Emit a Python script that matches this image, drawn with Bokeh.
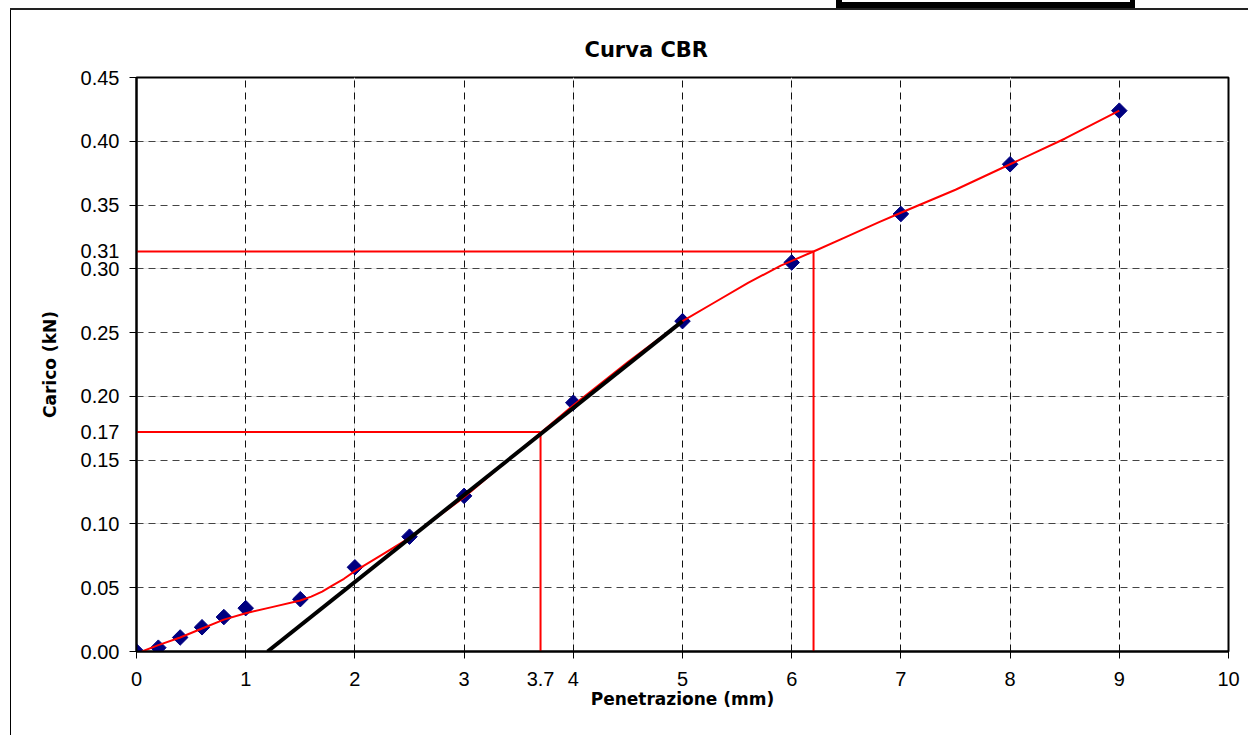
from bokeh.plotting import figure
from bokeh.models import (Range1d, FixedTicker, PrintfTickFormatter, NumeralTickFormatter,
                          LinearAxis, Grid)
from bokeh.embed import file_html
from bokeh.resources import INLINE
import numpy as np

# ---- data ----
pen_x = [0.0, 0.2, 0.4, 0.6, 0.8, 1.0, 1.5, 2.0, 2.5, 3.0, 4.0, 5.0, 6.0, 7.0, 8.0, 9.0]
load_y = [0.000, 0.003, 0.011, 0.019, 0.027, 0.034, 0.041, 0.066, 0.090, 0.122,
          0.195, 0.259, 0.305, 0.343, 0.382, 0.424]

curve_x = [0.05, 0.2, 0.4, 0.6, 0.8, 1.0, 1.25, 1.5, 1.6, 1.7, 1.8, 1.9, 2.0, 2.25, 2.5,
           2.75, 3.0, 3.5, 4.0, 4.5, 5.0, 5.3, 5.6, 5.9, 6.2, 6.5, 6.8, 7.0, 7.5, 8.0,
           8.5, 9.0]
curve_y = [0.000, 0.005, 0.011, 0.018, 0.025, 0.030, 0.035, 0.040, 0.043, 0.047, 0.052,
           0.057, 0.063, 0.076, 0.089, 0.105, 0.121, 0.157, 0.193, 0.227, 0.259, 0.274,
           0.289, 0.3025, 0.3136, 0.325, 0.3366, 0.344, 0.362, 0.382, 0.402, 0.424]

tangent_x = [1.2, 5.0]
tangent_y = [0.0, 0.259]

ref_x = [3.7, 6.2]
ref_y = [0.172, 0.3136]
ref_x_label_ticks = [3.7]            # value shown on the x axis ("3.7")
ref_y_label_ticks = [0.172, 0.3136]  # values shown on the y axis ("0.17", "0.31")

x_ticks = [0, 1, 2, 3, 4, 5, 6, 7, 8, 9, 10]
y_ticks = [0.0, 0.05, 0.10, 0.15, 0.20, 0.25, 0.30, 0.35, 0.40, 0.45]

title_text = "Curva CBR"
x_label = "Penetrazione (mm)"
y_label = "Carico (kN)"

# ---- layout ----
W, H = 1248, 735
ML, MR, MT, MB = 136, 20, 77, 84

bg_layers = ", ".join([
    "linear-gradient(white, white) 842px 0px / 288px 2px no-repeat",
    "linear-gradient(black, black) 836px 0px / 299px 8px no-repeat",
    "linear-gradient(#222, #222) 10px 8px / 100% 2px no-repeat",
    "linear-gradient(black, black) 10px 9px / 1px 100% no-repeat",
    "white",
])

p = figure(width=W, height=H, x_range=Range1d(0, 10), y_range=Range1d(0, 0.45),
           output_backend="svg", toolbar_location=None,
           min_border_left=ML, min_border_right=MR, min_border_top=MT, min_border_bottom=MB,
           x_axis_location=None, y_axis_location=None,
           styles={"background": bg_layers})
p.background_fill_color = "white"
p.border_fill_color = None
p.outline_line_color = "black"
p.outline_line_width = 2

tick_font = "Liberation Sans"
tick_size = "20px"

# axes carrying the tick marks only (labels not drawn)
xa = LinearAxis(ticker=FixedTicker(ticks=x_ticks))
ya = LinearAxis(ticker=FixedTicker(ticks=y_ticks))
for ax in (xa, ya):
    ax.axis_line_color = "black"
    ax.axis_line_width = 2
    ax.major_tick_in = 0
    ax.major_tick_out = 7
    ax.major_tick_line_color = "black"
    ax.minor_tick_line_color = None
    ax.major_label_text_font_size = "0px"
    ax.major_label_text_color = None
    ax.major_label_standoff = 0
p.add_layout(xa, "below")
p.add_layout(ya, "left")

# axes carrying the labels (incl. construction values)
xb = LinearAxis(ticker=FixedTicker(ticks=x_ticks + ref_x_label_ticks),
                formatter=NumeralTickFormatter(format="0.[0]"))
yb = LinearAxis(ticker=FixedTicker(ticks=y_ticks + ref_y_label_ticks),
                formatter=PrintfTickFormatter(format="%.2f"))
for ax in (xb, yb):
    ax.axis_line_color = None
    ax.major_tick_line_color = None
    ax.minor_tick_line_color = None
    ax.major_tick_in = 0
    ax.major_tick_out = 0
    ax.major_label_text_font = tick_font
    ax.major_label_text_font_size = tick_size
    ax.major_label_text_color = "black"
    ax.axis_label_text_font = "DejaVu Sans"
    ax.axis_label_text_font_style = "bold"
    ax.axis_label_text_font_size = "17px"
    ax.axis_label_text_color = "black"
xb.major_label_standoff = 13
yb.major_label_standoff = 10
xb.axis_label = x_label
yb.axis_label = y_label
xb.axis_label_standoff = 0
yb.axis_label_standoff = 18
p.add_layout(xb, "below")
p.add_layout(yb, "left")

gx = Grid(dimension=0, ticker=FixedTicker(ticks=x_ticks), grid_line_color="#111111",
          grid_line_dash="7 5", grid_line_width=1)
gy = Grid(dimension=1, ticker=FixedTicker(ticks=y_ticks), grid_line_color="#444444",
          grid_line_dash="7 5", grid_line_width=1)
p.add_layout(gx)
p.add_layout(gy)

# title
p.title.text = title_text
p.title.align = "left"
p.title.offset = 448
p.title.text_font = "DejaVu Sans"
p.title.text_font_style = "bold"
p.title.text_font_size = "21px"
p.title.text_color = "black"
p.title.standoff = 32

# reference (red) construction lines
for rx, ry in zip(ref_x, ref_y):
    p.line([0, rx], [ry, ry], line_color="red", line_width=2)
    p.line([rx, rx], [0, ry], line_color="red", line_width=2)

# data points
p.scatter(pen_x, load_y, marker="square", size=11, angle=np.pi / 4,
          fill_color="#000080", line_color="#000080")

# smoothed curve
p.line(curve_x, curve_y, line_color="red", line_width=2, line_join="round")

# tangent line
p.line(tangent_x, tangent_y, line_color="black", line_width=4)

open("out.html", "w").write(file_html(p, INLINE))
